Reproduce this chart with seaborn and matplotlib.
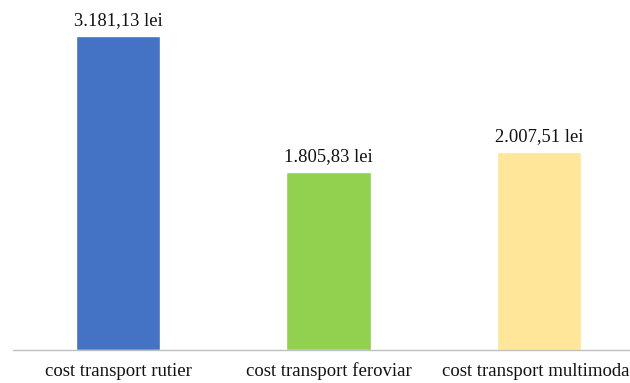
import matplotlib
matplotlib.use("Agg")
import matplotlib.pyplot as plt
import seaborn as sns
import pandas as pd

categories = ["cost transport rutier", "cost transport feroviar", "cost transport multimodal"]
values = [3181.13, 1805.83, 2007.51]
value_labels = ["3.181,13 lei", "1.805,83 lei", "2.007,51 lei"]
colors = ["#4472C4", "#92D050", "#FFE699"]

sns.set_theme(style="white")
plt.rcParams["font.family"] = ["Liberation Serif", "DejaVu Serif"]

df = pd.DataFrame({"categorie": categories, "cost": values})

fig = plt.figure(figsize=(6.3, 3.83), dpi=100)
ax = fig.add_axes([13 / 630, 33 / 383, 631 / 630, 345 / 383])

sns.barplot(data=df, x="categorie", y="cost", hue="categorie",
            palette=colors, width=0.4, legend=False, ax=ax, saturation=1)

for i, (v, lab) in enumerate(zip(values, value_labels)):
    ax.annotate(lab, (i, v), xytext=(0, 5), textcoords="offset points",
                ha="center", va="bottom", fontsize=13.3, color="#111111")

ax.set_xlim(-0.5, 2.5)
ax.set_ylim(0, 3500)
ax.set_xlabel("")
ax.set_ylabel("")
ax.set_yticks([])
for side in ["top", "left", "right"]:
    ax.spines[side].set_visible(False)
ax.spines["bottom"].set_color("#bfbfbf")
ax.spines["bottom"].set_linewidth(1.0)
ax.tick_params(axis="x", length=0, pad=9, labelsize=13.5, labelcolor="#111111")

fig.savefig("out.png", dpi=100)
